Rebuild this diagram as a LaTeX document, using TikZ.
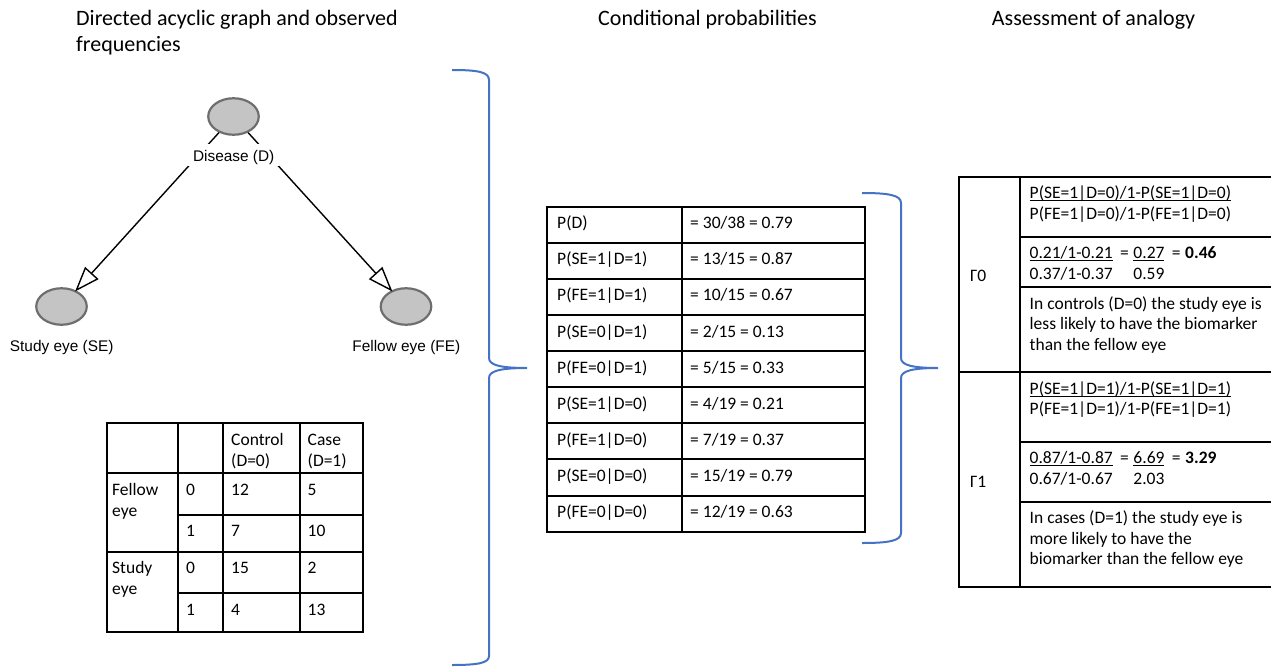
\documentclass[tikz,border=0pt]{standalone}
\usepackage{fontspec}
\setmainfont{Carlito}
\newfontfamily\arialfont{Liberation Sans}
\usetikzlibrary{arrows.meta,shapes.geometric}
\definecolor{bracecol}{HTML}{4472C4}
\definecolor{ellfill}{HTML}{C4C4C4}
\definecolor{elldraw}{HTML}{6E6E6E}
\newcommand\cellsize{\fontsize{17.5}{21}\selectfont}
\newcommand\myul[1]{\setbox0\hbox{#1}\rlap{\rule[-2.8pt]{\wd0}{1.1pt}}\box0}
\newlength\gapA
\begin{document}
\begin{tikzpicture}[x=1pt,y=-1pt,
  heading/.style={font=\fontsize{22}{26}\selectfont, inner sep=0pt},
  eyenode/.style={ellipse, draw=elldraw, fill=ellfill, line width=2.2pt, minimum width=50.5pt, minimum height=36.5pt, inner sep=0pt},
  glabel/.style={font=\arialfont\fontsize{15.4}{18}\selectfont, inner sep=0pt},
  dagarrow/.style={line width=1.4pt, shorten >=-1.5pt, -{Triangle[open,length=25pt,width=18pt,line width=1.4pt]}},
  gridline/.style={line width=2pt},
  cell/.style={anchor=base west, inner sep=0pt, font=\cellsize},
  brace/.style={draw=bracecol, line width=2pt}]
\useasboundingbox (0,0) rectangle (1271,667);
\clip (0,0) rectangle (1271,667);

% headings
\node[heading, anchor=base west] (h1a) at (76,25.7) {Directed acyclic graph and observed};
\node[heading, anchor=base west] (h1b) at (76,51.7) {frequencies};
\node[heading, anchor=base] (h2) at (707.5,25.7) {Conditional probabilities};
\node[heading, anchor=base] (h3) at (1093.5,25.7) {Assessment of analogy};

% DAG
\node[eyenode] (D) at (233.5,116.5) {};
\node[eyenode] (SE) at (61.5,306.5) {};
\node[eyenode] (FE) at (406,306.5) {};
\draw[dagarrow] (D) -- (SE);
\draw[dagarrow] (D) -- (FE);
\node[glabel, anchor=base, fill=white, inner xsep=5pt, inner ysep=3pt, text height=15pt, text depth=1pt] (Dl) at (233.7,161.7) {Disease (D)};
\node[glabel, anchor=base] (SEl) at (61.7,351.8) {Study eye (SE)};
\node[glabel, anchor=base] (FEl) at (406.3,351.8) {Fellow eye (FE)};

% left table
\draw[gridline] (106.7,423.3) rectangle (363.3,631.7);
\draw[gridline] (178.3,423.3) -- (178.3,631.7);
\draw[gridline] (223.3,423.3) -- (223.3,631.7);
\draw[gridline] (300,423.3) -- (300,631.7);
\draw[gridline] (106.7,473.3) -- (363.3,473.3);
\draw[gridline] (178.3,515) -- (363.3,515);
\draw[gridline] (106.7,551.7) -- (363.3,551.7);
\draw[gridline] (178.3,593.3) -- (363.3,593.3);
\node[cell] (lhc1) at (231,445) {Control};
\node[cell] (lhc2) at (231,466) {(D=0)};
\node[cell] (lhd1) at (307.5,445) {Case};
\node[cell] (lhd2) at (307.5,466) {(D=1)};
\node[cell] (lfa) at (112,495) {Fellow};
\node[cell] (lfb) at (112,516) {eye};
\node[cell] (lf0) at (186,495) {0};
\node[cell] (lf0c) at (231,495) {12};
\node[cell] (lf0d) at (307.5,495) {5};
\node[cell] (lf1) at (186,536.7) {1};
\node[cell] (lf1c) at (231,536.7) {7};
\node[cell] (lf1d) at (307.5,536.7) {10};
\node[cell] (lsa) at (112,573.4) {Study};
\node[cell] (lsb) at (112,594.4) {eye};
\node[cell] (ls0) at (186,573.4) {0};
\node[cell] (ls0c) at (231,573.4) {15};
\node[cell] (ls0d) at (307.5,573.4) {2};
\node[cell] (ls1) at (186,615) {1};
\node[cell] (ls1c) at (231,615) {4};
\node[cell] (ls1d) at (307.5,615) {13};

% center table
\draw[gridline] (547.3,206.7) rectangle (865,531.6);
\draw[gridline] (681.7,206.7) -- (681.7,531.6);
\foreach \yy in {242.8,278.9,315,351.1,387.2,423.3,459.4,495.5}
  \draw[gridline] (547.3,\yy) -- (865,\yy);
\node[cell] (c1a) at (557,228.7) {P(D)};
\node[cell] (c1b) at (690,228.7) {= 30/38 = 0.79};
\node[cell] (c2a) at (557,264.8) {P(SE=1|D=1)};
\node[cell] (c2b) at (690,264.8) {= 13/15 = 0.87};
\node[cell] (c3a) at (557,300.9) {P(FE=1|D=1)};
\node[cell] (c3b) at (690,300.9) {= 10/15 = 0.67};
\node[cell] (c4a) at (557,337) {P(SE=0|D=1)};
\node[cell] (c4b) at (690,337) {= 2/15 = 0.13};
\node[cell] (c5a) at (557,373.1) {P(FE=0|D=1)};
\node[cell] (c5b) at (690,373.1) {= 5/15 = 0.33};
\node[cell] (c6a) at (557,409.2) {P(SE=1|D=0)};
\node[cell] (c6b) at (690,409.2) {= 4/19 = 0.21};
\node[cell] (c7a) at (557,445.3) {P(FE=1|D=0)};
\node[cell] (c7b) at (690,445.3) {= 7/19 = 0.37};
\node[cell] (c8a) at (557,481.4) {P(SE=0|D=0)};
\node[cell] (c8b) at (690,481.4) {= 15/19 = 0.79};
\node[cell] (c9a) at (557,517.5) {P(FE=0|D=0)};
\node[cell] (c9b) at (690,517.5) {= 12/19 = 0.63};

% right table
\draw[gridline] (959,176.7) rectangle (1275,586.7);
\draw[gridline] (1020,176.7) -- (1020,586.7);
\draw[gridline] (1020,236.7) -- (1275,236.7);
\draw[gridline] (1020,287.3) -- (1275,287.3);
\draw[gridline] (959,372.3) -- (1275,372.3);
\draw[gridline] (1020,441.7) -- (1275,441.7);
\draw[gridline] (1020,501.7) -- (1275,501.7);
\node[cell] (g0) at (970,281) {Γ0};
\node[cell] (g1) at (970,487) {Γ1};
\node[cell] (ra1) at (1029.5,198.4) {\myul{P(SE=1|D=0)/1-P(SE=1|D=0)}};
\node[cell] (ra2) at (1029.5,219) {P(FE=1|D=0)/1-P(FE=1|D=0)};
\node[cell] (rb1) at (1029.5,258.4) {\myul{0.21/1-0.21}\hspace{7.5pt}=\hspace{4.5pt}\myul{0.27}\hspace{7.5pt}=\hspace{4.5pt}\textbf{0.46}};
\node[cell] (rb2) at (1029.5,279) {\settowidth{\gapA}{0.21/1-0.21\hspace{7.5pt}=\hspace{4.5pt}}\makebox[\gapA][l]{0.37/1-0.37}0.59};
\node[cell] (rc1) at (1029.5,309) {In controls (D=0) the study eye is};
\node[cell] (rc2) at (1029.5,329.7) {less likely to have the biomarker};
\node[cell] (rc3) at (1029.5,350.4) {than the fellow eye};
\node[cell] (rd1) at (1029.5,394) {\myul{P(SE=1|D=1)/1-P(SE=1|D=1)}};
\node[cell] (rd2) at (1029.5,414.7) {P(FE=1|D=1)/1-P(FE=1|D=1)};
\node[cell] (re1) at (1029.5,463.4) {\myul{0.87/1-0.87}\hspace{7.5pt}=\hspace{4.5pt}\myul{6.69}\hspace{7.5pt}=\hspace{4.5pt}\textbf{3.29}};
\node[cell] (re2) at (1029.5,484) {\settowidth{\gapA}{0.87/1-0.87\hspace{7.5pt}=\hspace{4.5pt}}\makebox[\gapA][l]{0.67/1-0.67}2.03};
\node[cell] (rf1) at (1029.5,523.4) {In cases (D=1) the study eye is};
\node[cell] (rf2) at (1029.5,544) {more likely to have the};
\node[cell] (rf3) at (1029.5,564.7) {biomarker than the fellow eye};

% braces
\draw[brace] (452,70) .. controls (478,70) and (489,72) .. (489,80) -- (489,358) .. controls (489,365) and (500,368) .. (527,368) .. controls (500,368) and (489,371) .. (489,378) -- (489,656) .. controls (489,663) and (478,665) .. (452,665);
\draw[brace] (862,193) .. controls (888,193) and (901,195) .. (901,203) -- (901,358) .. controls (901,365) and (912,368) .. (938,368) .. controls (912,368) and (901,371) .. (901,378) -- (901,533) .. controls (901,541) and (888,543) .. (862,543);
\end{tikzpicture}
\end{document}
